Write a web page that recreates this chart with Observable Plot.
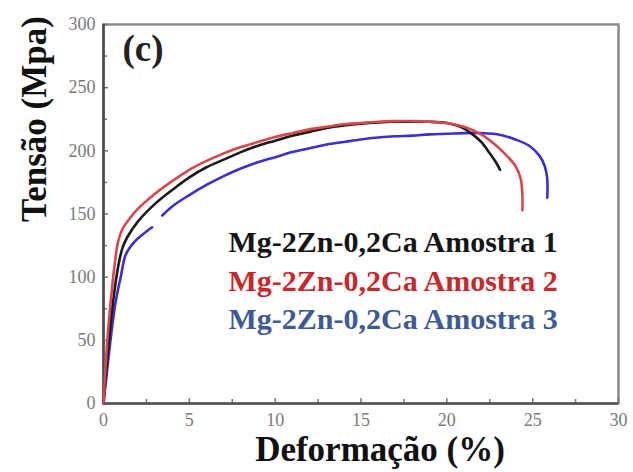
<!DOCTYPE html>
<html>
<head>
<meta charset="utf-8">
<script src="https://cdn.jsdelivr.net/npm/d3@7"></script>
<script src="https://cdn.jsdelivr.net/npm/@observablehq/plot@0.6"></script>
<style>
  html, body { margin: 0; padding: 0; background: #fff; }
  #chart svg { display: block; }
</style>
</head>
<body>
<div id="chart"></div>
<script>
// Series: strain (%) and stress (MPa)
const a1x = [0, 0.15, 0.35, 0.6, 0.85, 1.1, 1.4, 2, 3, 4, 5, 6, 7, 8, 9, 10, 11, 12, 13, 14, 15, 16, 17, 18, 19, 20, 20.8, 21.5, 22, 22.5, 22.9, 23.1];
const a1y = [0, 25, 55, 85, 108, 123, 132, 144, 158, 169, 179, 187, 193, 199, 204, 208, 212, 215, 218, 220, 221.5, 222.5, 223, 223, 223, 222, 219, 213, 207, 198, 190, 185];

const a2x = [0, 0.1, 0.25, 0.45, 0.65, 0.85, 1.1, 1.5, 2, 3, 4, 5, 6, 7, 8, 9, 10, 11, 12, 13, 14, 15, 16, 17, 18, 19, 20, 21, 22, 22.8, 23.5, 24, 24.3, 24.4, 24.4];
const a2y = [0, 25, 55, 85, 110, 128, 138, 146, 154, 166, 176, 185, 192, 198, 203, 207, 211, 214, 217, 219, 221, 222, 223, 223.5, 223.5, 223, 222, 219, 213, 205, 196, 188, 178, 165, 153];

const a3x = [0, 0.2, 0.45, 0.7, 1.0, 1.3, 1.8, 2.3, 2.83, 3.1, 3.42, 4, 5, 6, 7, 8, 9, 10, 11, 12, 13, 14, 15, 16, 17, 18, 19, 20, 21, 22, 23, 24, 24.8, 25.4, 25.7, 25.85, 25.85];
const a3y = [0, 25, 55, 80, 100, 118, 128, 134, 139.5, NaN, 148.8, 156, 165, 173, 180, 186, 191, 195, 199, 202, 205, 207, 209, 210.5, 211.5, 212, 213, 213.5, 214, 214, 213, 209, 204, 196, 188, 178, 163];

const seriesNames = ["Mg-2Zn-0,2Ca Amostra 1", "Mg-2Zn-0,2Ca Amostra 2", "Mg-2Zn-0,2Ca Amostra 3"];
const lineColors = ["#1a1a1a", "#d9474a", "#3a2fd0"];
const labelColors = ["#151515", "#c8282c", "#3d5a96"];

const xTicks = [0, 5, 10, 15, 20, 25, 30];
const xMinor = [2.5, 7.5, 12.5, 17.5, 22.5, 27.5];
const yTicks = [0, 50, 100, 150, 200, 250, 300];
const yMinor = [25, 75, 125, 175, 225, 275];

const xLabel = "Deformação (%)";
const yLabel = "Tensão (Mpa)";
const panelLabel = "(c)";

const toRows = (xs, ys, s) => xs.map((x, i) => ({x, y: ys[i], s}));
const rows1 = toRows(a1x, a1y, seriesNames[0]);
const rows2 = toRows(a2x, a2y, seriesNames[1]);
const rows3 = toRows(a3x, a3y, seriesNames[2]);

const serif = "'Liberation Serif', 'DejaVu Serif', serif";

const chart = Plot.plot({
  width: 633,
  height: 472,
  marginLeft: 103,
  marginRight: 15,
  marginTop: 24,
  marginBottom: 69,
  style: {fontFamily: serif, background: "#fff"},
  x: {domain: [0, 30]},
  y: {domain: [0, 300]},
  marks: [
    Plot.frame({stroke: "#8a8a8a", strokeWidth: 2.5}),
    Plot.axisX({ticks: xTicks, tickSize: -5, tickPadding: 15, fontSize: 18, fontFamily: serif, fill: "#7a7a7a", stroke: "#777", strokeWidth: 1.5, label: null}),
    Plot.axisX({ticks: xMinor, tickSize: -4, text: null, stroke: "#777", strokeWidth: 1.5, label: null}),
    Plot.axisY({ticks: yTicks, tickSize: -5, tickPadding: 13, fontSize: 18, fontFamily: serif, fill: "#7a7a7a", stroke: "#777", strokeWidth: 1.5, label: null}),
    Plot.axisY({ticks: yMinor, tickSize: -4, text: null, stroke: "#777", strokeWidth: 1.5, label: null}),
    Plot.ruleX([0], {stroke: "#4a4a4a", strokeWidth: 2.5}),
    Plot.ruleY([0], {stroke: "#555", strokeWidth: 2.5}),
    Plot.line(rows3, {x: "x", y: "y", stroke: lineColors[2], strokeWidth: 2.6, curve: "catmull-rom"}),
    Plot.line(rows1, {x: "x", y: "y", stroke: lineColors[0], strokeWidth: 2.6, curve: "catmull-rom"}),
    Plot.line(rows2, {x: "x", y: "y", stroke: lineColors[1], strokeWidth: 2.6, curve: "catmull-rom"}),
    ...seriesNames.map((name, i) => Plot.text([name], {
      frameAnchor: "top-left", dx: 125, dy: 218 + i * 38.5,
      text: d => d, textAnchor: "start", lineAnchor: "middle",
      fontSize: 30, fontWeight: "bold", fill: labelColors[i], fontFamily: serif
    })),
    Plot.text([panelLabel], {frameAnchor: "top-left", dx: 19, dy: 25, text: d => d, textAnchor: "start", lineAnchor: "middle", fontSize: 37, fontWeight: "bold", fill: "#222", fontFamily: serif}),
    Plot.text([xLabel], {frameAnchor: "bottom", dx: 19, dy: 46, text: d => d, lineAnchor: "middle", fontSize: 35, fontWeight: "bold", fill: "#111", fontFamily: serif}),
    Plot.text([yLabel], {frameAnchor: "left", dx: -69, dy: 8, rotate: -90, text: d => d, lineAnchor: "middle", fontSize: 35, fontWeight: "bold", fill: "#111", fontFamily: serif})
  ]
});
document.getElementById("chart").appendChild(chart);
</script>
</body>
</html>
